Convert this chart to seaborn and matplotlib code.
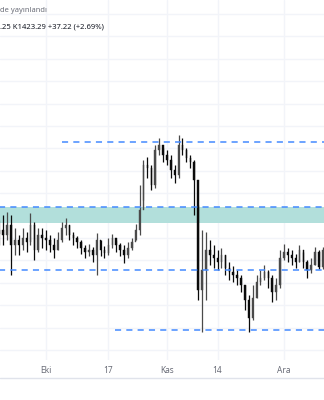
import numpy as np
import pandas as pd
import seaborn as sns
import matplotlib
matplotlib.use("Agg")
import matplotlib.pyplot as plt
from matplotlib.lines import Line2D

# ---------------- data (daily candles, day 0 = 19 Sep) ----------------
opens = [1460, 1468, 1457, 1479, 1434, 1446, 1434, 1450, 1441, 1479,
         1423, 1457, 1450, 1446, 1434, 1423, 1446, 1472, 1479, 1457,
         1450, 1441, 1428, 1419, 1423, 1412, 1446, 1423, 1417, 1434,
         1450, 1434, 1423, 1412, 1428, 1441, 1468, 1512, 1613, 1606,
         1568, 1646, 1658, 1635, 1624, 1602, 1591, 1658, 1646, 1629,
         1620, 1579, 1334, 1379, 1423, 1412, 1405, 1396, 1412, 1383,
         1374, 1367, 1361, 1345, 1312, 1271, 1316, 1352, 1361, 1374,
         1361, 1330, 1345, 1405, 1419, 1412, 1405, 1396, 1423, 1396,
         1379, 1390, 1419, 1386.07]
highs = [1490, 1501, 1508, 1501, 1472, 1457, 1472, 1463, 1506, 1486,
         1472, 1472, 1468, 1457, 1450, 1463, 1486, 1495, 1479, 1463,
         1454, 1446, 1434, 1437, 1430, 1461, 1446, 1432, 1450, 1459,
         1446, 1439, 1434, 1441, 1450, 1481, 1568, 1624, 1631, 1613,
         1658, 1673, 1651, 1646, 1635, 1613, 1680, 1673, 1651, 1635,
         1624, 1524, 1468, 1463, 1446, 1434, 1423, 1428, 1412, 1396,
         1388, 1379, 1367, 1345, 1323, 1345, 1367, 1379, 1390, 1379,
         1367, 1361, 1423, 1437, 1428, 1423, 1414, 1434, 1419, 1401,
         1405, 1430, 1423, 1430]
lows = [1434, 1434, 1446, 1367, 1412, 1412, 1423, 1419, 1434, 1401,
        1419, 1428, 1423, 1419, 1405, 1423, 1441, 1457, 1446, 1434,
        1428, 1414, 1405, 1410, 1396, 1367, 1410, 1405, 1412, 1428,
        1419, 1410, 1394, 1405, 1423, 1446, 1457, 1535, 1584, 1557,
        1562, 1635, 1620, 1613, 1584, 1573, 1584, 1635, 1620, 1606,
        1501, 1312, 1240, 1312, 1390, 1383, 1379, 1383, 1367, 1356,
        1352, 1345, 1330, 1289, 1240, 1267, 1316, 1345, 1356, 1338,
        1307, 1312, 1338, 1401, 1396, 1390, 1383, 1396, 1383, 1361,
        1372, 1390, 1380, 1380.25]
closes = [1468, 1457, 1479, 1434, 1446, 1434, 1450, 1441, 1479, 1423,
          1457, 1450, 1446, 1434, 1423, 1446, 1472, 1479, 1457, 1450,
          1441, 1428, 1419, 1423, 1412, 1446, 1423, 1417, 1434, 1450,
          1434, 1423, 1412, 1428, 1441, 1468, 1512, 1613, 1606, 1568,
          1646, 1658, 1635, 1624, 1602, 1591, 1658, 1646, 1629, 1620,
          1579, 1334, 1379, 1423, 1412, 1405, 1396, 1412, 1383, 1374,
          1367, 1361, 1345, 1312, 1271, 1316, 1352, 1361, 1374, 1361,
          1330, 1345, 1405, 1419, 1412, 1405, 1396, 1423, 1396, 1379,
          1390, 1419, 1386.07, 1423.29]

# horizontal levels (support / resistance) and zone
level_prices = [1664.3, 1519.2, 1378.6, 1244.6]
level_starts = [16.1, 0.0, 0.0, 29.7]     # day index where each line starts
zone_low, zone_high = 1483.5, 1519.2

tick_days = [12, 28, 43, 56, 73]
tick_labels = ["Eki", "17", "Kas", "14", "Ara"]

header_1 = "de yayınlandı"
header_2 = ".25 K1423.29 +37.22 (+2.69%)"

# ---------------- plotting ----------------
sns.set_theme(style="white")
plt.rcParams['font.family'] = ['Noto Sans', 'DejaVu Sans']

df = pd.DataFrame({"day": np.arange(len(closes)), "open": opens, "high": highs,
                   "low": lows, "close": closes})

fig = plt.figure(figsize=(3.24, 4.0), dpi=100)
ax = fig.add_axes([0, 0.1, 1, 0.9])

ax.set_xlim(0.2, 83.3)
ax.set_ylim(1177.7, 1981.2)

# grid
for p in np.arange(1200, 2000, 50):
    ax.axhline(p, color="#f2f4f9", lw=1, zorder=0)
for d in tick_days:
    ax.axvline(d, color="#f2f4f9", lw=1, zorder=0)

# zone
ax.axhspan(zone_low, zone_high, color="#b2dfdb", lw=0, zorder=1)

# candles
up = df["close"] >= df["open"]
for sel, col in [(up, "#4a4a4a"), (~up, "#0a0a0a")]:
    sub = df[sel]
    ax.vlines(sub["day"], sub["low"], sub["high"], color=col, lw=0.9, zorder=3)
    ax.bar(sub["day"], (sub["close"] - sub["open"]).abs().clip(lower=1.5),
           bottom=np.minimum(sub["open"], sub["close"]), width=0.38,
           color=col, edgecolor=col, lw=0.3, zorder=4)

# dashed levels
for p, s in zip(level_prices, level_starts):
    ax.plot([s, 84], [p, p], color="#448aff", lw=1.1, dashes=(4, 3.4), zorder=5)

ax.set_xticks(tick_days)
ax.set_xticklabels(tick_labels, fontsize=6, color="#6a6d78")
ax.tick_params(axis="x", length=0, pad=4)
ax.set_yticks([])
for s in ax.spines.values():
    s.set_visible(False)

fig.add_artist(Line2D([0, 1], [22 / 400, 22 / 400], color="#e0e3eb", lw=1))

fig.text(0.0, 1 - 10 / 400, header_1, fontsize=5.4, color="#6a6d78", va="center", ha="left")
fig.text(0.0, 1 - 27 / 400, header_2, fontsize=5.5, color="#131722", va="center", ha="left")

fig.savefig("out.png", dpi=100, facecolor="white")
